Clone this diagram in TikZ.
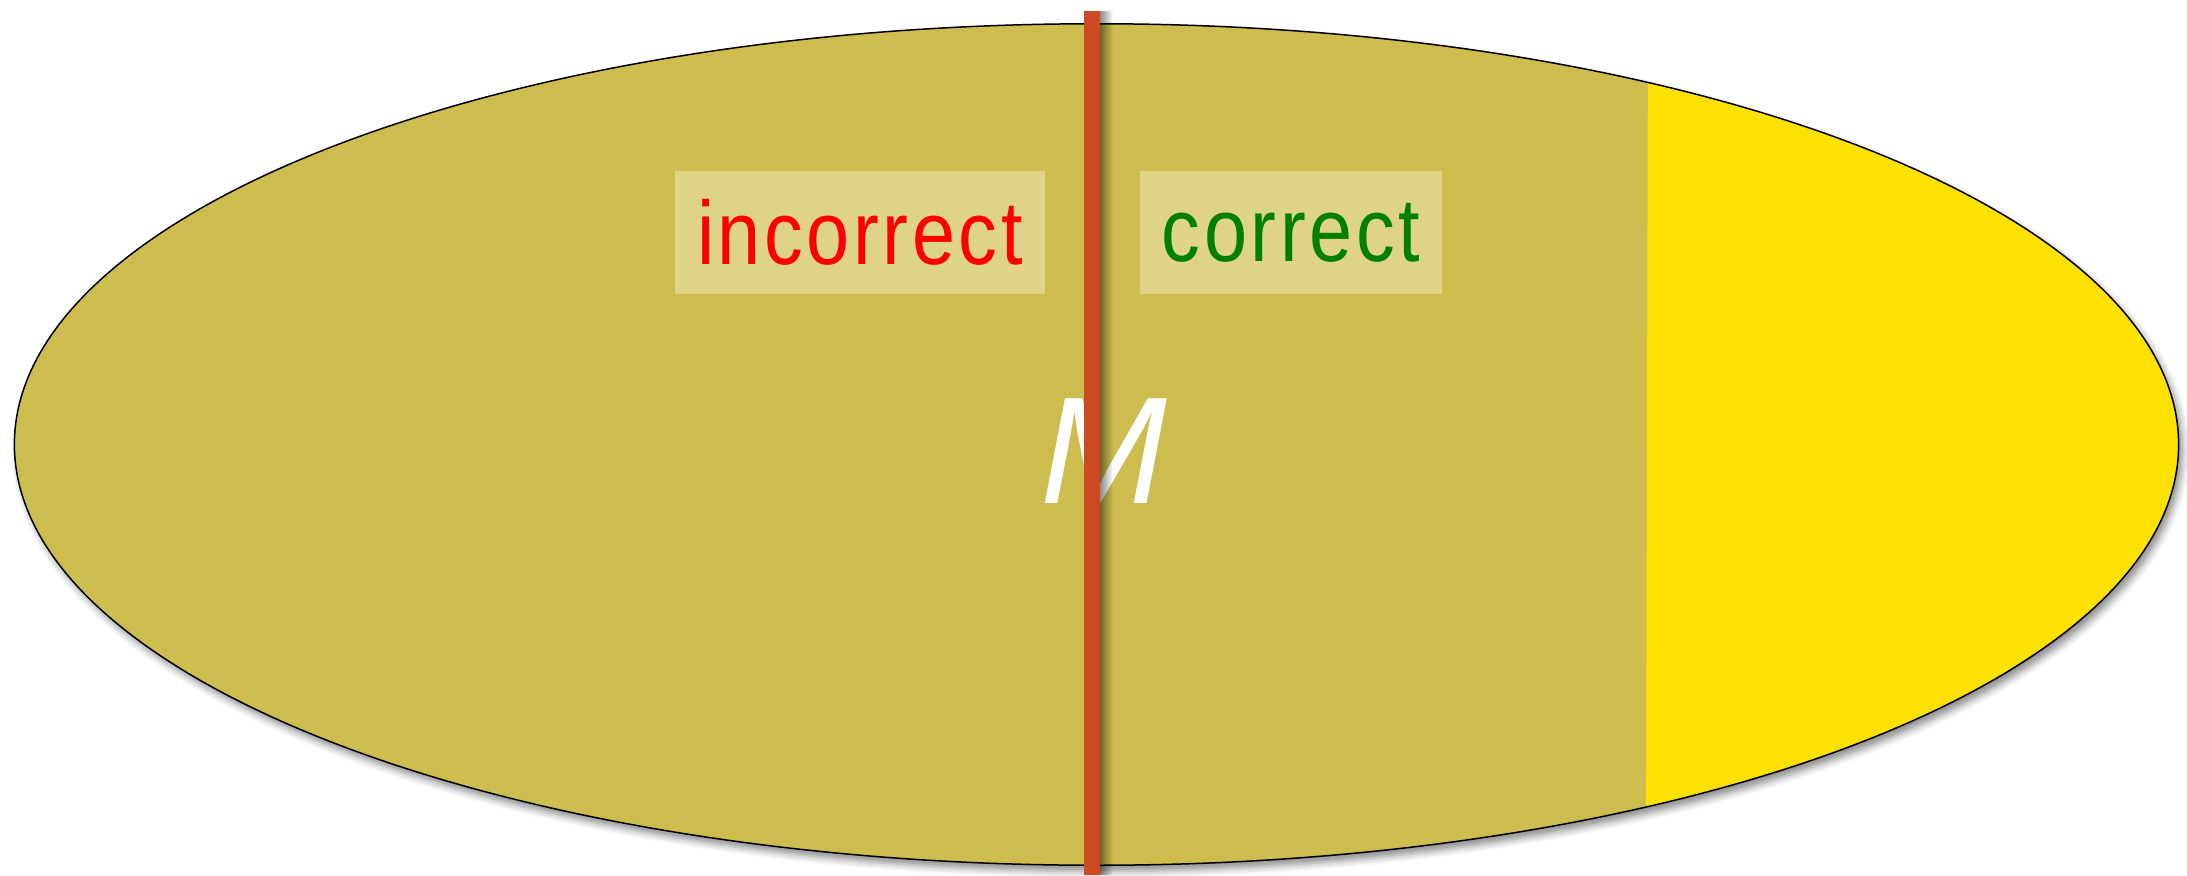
\documentclass[tikz,border=0pt]{standalone}
\usepackage{fontspec}
\setmainfont{Liberation Sans}
\newfontfamily\labfont[FakeStretch=0.86, LetterSpace=4]{Liberation Sans}
\usetikzlibrary{shadows.blur,fadings}
\definecolor{ellfill}{HTML}{CDBC4E}
\definecolor{yelfill}{HTML}{FDE100}
\definecolor{boxfill}{HTML}{DFD387}
\definecolor{barred}{HTML}{CC4A22}
\definecolor{txtred}{HTML}{FF0000}
\definecolor{txtgreen}{HTML}{008000}
\tikzfading[name=fadeR, left color=transparent!0, right color=transparent!100]
\tikzset{
  lab/.style={fill=boxfill, inner sep=0pt, minimum height=1.23cm,
    font=\labfont\fontsize{25.6}{30}\selectfont},
  bar/.style={draw=barred, line width=0.16cm},
}
\begin{document}
\begin{tikzpicture}[x=0.01cm,y=-0.01cm]
\useasboundingbox (0,0) rectangle (2187,875);
% ellipse with shadow
\path[fill=ellfill, blur shadow={shadow xshift=0.04cm, shadow yshift=-0.06cm, shadow blur radius=0.07cm, shadow opacity=45}]
  (1096.5,444.5) ellipse [x radius=10.815cm, y radius=4.205cm];
\begin{scope}
  \clip (1096.5,444.5) ellipse [x radius=10.815cm, y radius=4.205cm];
  \fill[yelfill] (1648,0) -- (2187,0) -- (2187,875) -- (1646,875) -- cycle;
\end{scope}
\draw[black, line width=0.015cm] (1096.5,444.5) ellipse [x radius=10.815cm, y radius=4.205cm];
% M
\node[text=white, inner sep=0pt, font=\fontsize{43.3}{50}\selectfont\itshape] (m) at (1104,451) {M};
% red bar with shadow
\fill[black, opacity=0.45, path fading=fadeR] (1100,11) rectangle (1113,875);
\coordinate (lt) at (1092,11);
\coordinate (lb) at (1092,875);
\draw[bar] (lt) -- (lb);
% labels
\node[lab, minimum width=3.70cm, text=txtred] (inc) at (860,232.5) {incorrect};
\node[lab, minimum width=3.02cm, text=txtgreen] (cor) at (1291,232.5) {correct};
\end{tikzpicture}
\end{document}
